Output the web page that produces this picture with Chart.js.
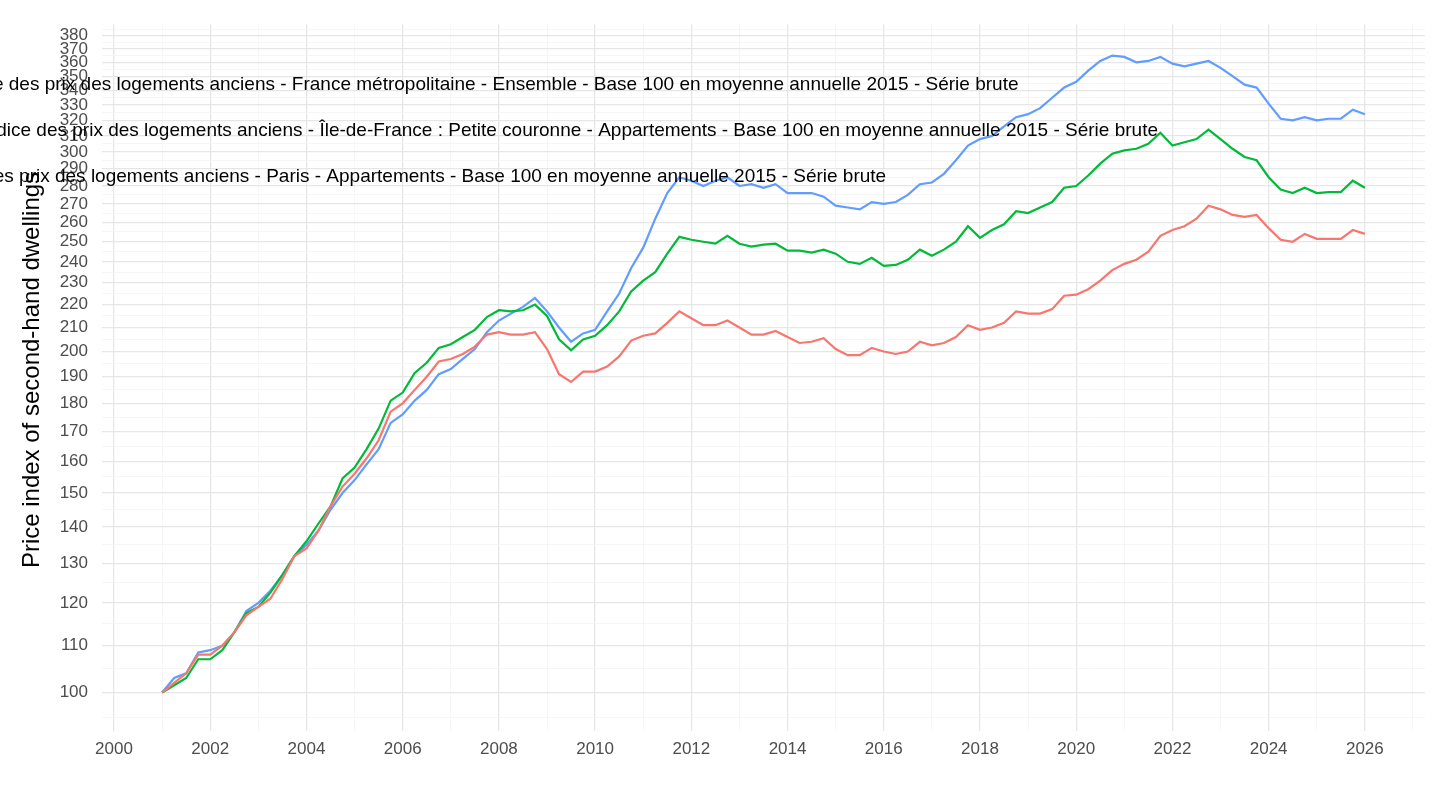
<!DOCTYPE html>
<html><head><meta charset="utf-8">
<script src="https://cdn.jsdelivr.net/npm/chart.js@4.4.0/dist/chart.umd.min.js"></script>
<style>html,body{margin:0;padding:0;background:#fff}#wrap{width:1440px;height:810px}</style>
</head><body><div id="wrap"><canvas id="c" width="1440" height="810"></canvas></div>
<script>
const startYear = 2001;
const france = [100,102,104,108, 108,110,113,117, 119,121,126,132, 134,139,146,152, 156,161,167,177, 180,185,190,196, 197,199,202,207, 208,207,207,208, 201,191,188,192, 192,194,198,204.5, 206.5,207.5,212,217, 214,211,211,213, 210,207,207,208.5, 206,203.5,204,205.5, 201,198.5,198.5,201.5, 200,199,200,204, 202.5,203.5,206,211, 209,210,212,217, 216,216,218,224, 224.5,227,231,236, 239,241,245,253, 256,258,262,269, 267,264,263,264, 257,251,250,254, 251.5,251.5,251.5,256, 254];
const idf = [100,101.5,103,107, 107,109,113,117.5, 119,122.5,127,132, 136,141,146,154.5, 158,164,171,181, 184,191.5,195.5,201.5, 203,206,209,214.5, 217.5,217,217.5,220, 215,205,200.5,205, 206.5,211,217,226, 231,235,244,252.5, 251,250,249,253, 249,247.5,248.5,249, 245.5,245.5,244.5,246, 244,240,239,242, 238,238.5,241,246, 243,246,250,258, 252,256,259,266, 265,268,271,279, 280,286,293,299, 301,302,305,312, 304,306,308,314, 308,302,297,295, 285,278,276,279, 276,276.5,276.5,283, 279];
const paris = [100,103,104,108.5, 109,110,113,118, 120,123,127,132, 135,139,145,150, 154,159,164,173, 176,181,185,191, 193,197,201,208, 213,216,219,223, 217,210,204,207.5, 209,217,225,237, 247,262,276,285, 283,280,283,285, 280,281,279,281, 276,276,276,274, 269,268,267,271, 270,271,275,281, 282,287,295,304, 308,310,316,322, 324,328,335,342, 346,354,361,365, 364,360,361,364, 359,357,359,361, 356,350,344,342, 331,321,320,322, 320,321,321,327, 324];
const seriesNames = ["France métropolitaine","Île-de-France : Petite couronne","Paris"];
const colors = ["#F8766D","#00BA38","#619CFF"];
const labelTexts = [
 "Indice des prix des logements anciens - France métropolitaine - Ensemble - Base 100 en moyenne annuelle 2015 - Série brute",
 "Indice des prix des logements anciens - Île-de-France : Petite couronne - Appartements - Base 100 en moyenne annuelle 2015 - Série brute",
 "Indice des prix des logements anciens - Paris - Appartements - Base 100 en moyenne annuelle 2015 - Série brute"];
const labelY = [344, 313, 285];
const labelEndX = [2018.8, 2021.7, 2016.05];
const xYears = []; for (let y=2000; y<=2027; y++) xYears.push(y);

const toPts = arr => arr.map((v,i)=>({x:startYear+i/4, y:v}));
const datasets = [france, idf, paris].map((arr,k)=>({label:seriesNames[k],data:toPts(arr),borderColor:colors[k],borderWidth:2.2,pointRadius:0,fill:false,tension:0}));

const labelsPlugin = {id:'lbl', afterDatasetsDraw(ch){
  const c=ch.ctx, xs=ch.scales.x, ys=ch.scales.y;
  c.save(); c.font='19px "Liberation Sans", Arial, sans-serif'; c.fillStyle='#000'; c.textAlign='right'; c.textBaseline='middle';
  labelTexts.forEach((t,i)=>c.fillText(t, xs.getPixelForValue(labelEndX[i]), ys.getPixelForValue(labelY[i])));
  c.translate(32, 370); c.rotate(-Math.PI/2); c.textAlign='center'; c.font='24px "Liberation Sans", Arial, sans-serif';
  c.fillText('Price index of second-hand dwellings', 0, 0);
  c.restore();
}};

new Chart(document.getElementById('c'), {
  type:'line', data:{datasets},
  options:{responsive:false, animation:false, layout:{padding:{top:0,right:15,left:0,bottom:0}},
    plugins:{legend:{display:false}, tooltip:{enabled:false}},
    scales:{
      x:{type:'linear', min:1999.75, max:2027.25,
        afterBuildTicks(s){ s.ticks = xYears.map(v=>({value:v})); },
        afterFit(s){ s.height = 87; },
        border:{display:false},
        grid:{color:ctx=>(ctx.tick && ctx.tick.value%2===0)?'#e6e6e6':'#f2f2f2', lineWidth:ctx=>(ctx.tick && ctx.tick.value%2===0)?1.3:0.7, drawTicks:true, tickLength:8, tickColor:ctx=>(ctx.tick && ctx.tick.value%2===0)?'#e6e6e6':'#f2f2f2'},
        ticks:{autoSkip:false, maxRotation:0, padding:8, color:'#4d4d4d', font:{size:17, family:'"Liberation Sans", Arial, sans-serif'}, callback:v=>v%2===0?String(v):''}},
      y:{type:'logarithmic', min:94, max:389,
        afterBuildTicks(s){ const t=[]; for(let v=95; v<=385; v+=5) t.push({value:v}); s.ticks=t; },
        afterFit(s){ s.width = 102; },
        border:{display:false},
        grid:{color:ctx=>(ctx.tick && ctx.tick.value%10===0)?'#e6e6e6':'#f2f2f2', lineWidth:ctx=>(ctx.tick && ctx.tick.value%10===0)?1.3:0.7, drawTicks:false},
        ticks:{autoSkip:false, padding:14, color:'#4d4d4d', font:{size:17, family:'"Liberation Sans", Arial, sans-serif'}, callback:v=>(v%10===0 && v>=100 && v<=380)?String(v):''}}
    }},
  plugins:[labelsPlugin]
});
</script></body></html>
